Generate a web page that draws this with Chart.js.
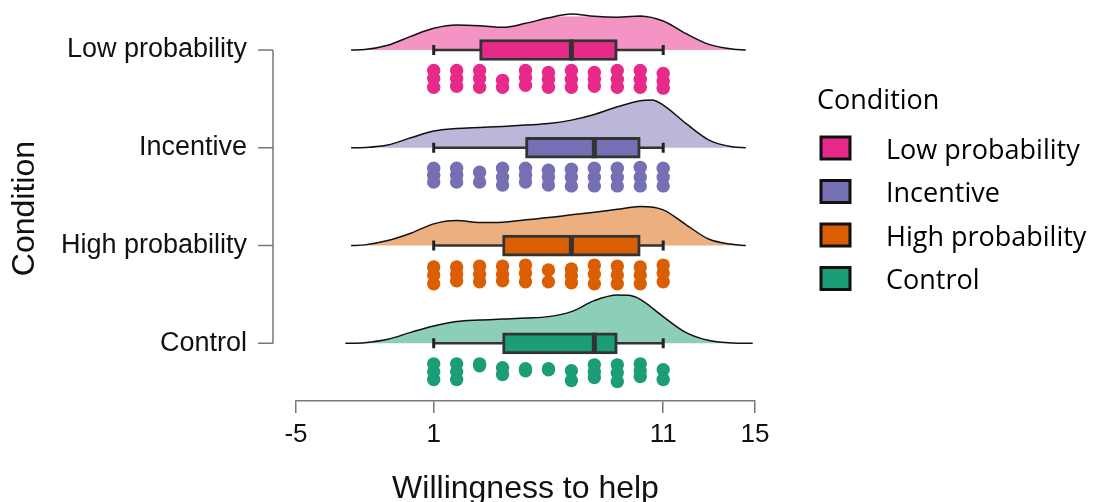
<!DOCTYPE html>
<html>
<head>
<meta charset="utf-8">
<script src="https://cdn.jsdelivr.net/npm/chart.js@4.4.1/dist/chart.umd.min.js"></script>
<style>
  html, body { margin: 0; padding: 0; background: #fff; }
  #wrap { width: 1098px; height: 502px; }
</style>
</head>
<body>
<div id="wrap"><canvas id="rain"></canvas></div>
<script>
const conditions = ['Low probability', 'Incentive', 'High probability', 'Control'];
const rowValues = [4, 3, 2, 1];
const xTickValues = [-5, 1, 11, 15];
const darkColors = ['#E7298A', '#7570B3', '#D95F02', '#1B9E77'];
const lightColors = ['rgba(231,41,138,0.5)', 'rgba(117,112,179,0.5)', 'rgba(217,95,2,0.5)', 'rgba(27,158,119,0.5)'];

// box plot stats, same order as conditions
const whiskerLow = [1, 1, 1, 1];
const quartile1 = [3, 5, 4, 4];
const medians = [7, 8, 7, 8];
const quartile3 = [9, 10, 10, 9];
const whiskerHigh = [11, 11, 11, 11];

// density clouds: x and height above the row
const lowDensityX = [-2.6, -2, -1, 0, 1, 2, 3, 4, 5, 6, 7, 8, 9, 10, 11, 12, 13, 14, 14.6];
const lowDensityH = [0, 0.005, 0.048, 0.140, 0.222, 0.256, 0.248, 0.232, 0.273, 0.330, 0.368, 0.345, 0.336, 0.348, 0.297, 0.167, 0.058, 0.010, 0];
const incentiveDensityX = [-2.6, -2, -1, 0, 1, 2, 3, 4, 5, 6, 7, 8, 9, 10, 10.5, 11, 12, 13, 14, 14.6];
const incentiveDensityH = [0, 0.003, 0.028, 0.102, 0.171, 0.197, 0.208, 0.218, 0.232, 0.248, 0.283, 0.341, 0.419, 0.481, 0.488, 0.437, 0.248, 0.079, 0.010, 0];
const highDensityX = [-2.6, -2, -1, 0, 1, 2, 3, 4, 5, 6, 7, 8, 9, 10, 11, 12, 13, 14, 14.6];
const highDensityH = [0, 0.007, 0.051, 0.126, 0.222, 0.256, 0.235, 0.238, 0.263, 0.286, 0.314, 0.341, 0.371, 0.399, 0.365, 0.212, 0.064, 0.013, 0];
const controlDensityX = [-2.85, -2, -1, 0, 1, 2, 3, 4, 5, 6, 7, 8, 9, 9.5, 10, 11, 12, 13, 14, 14.9];
const controlDensityH = [0, 0.007, 0.041, 0.112, 0.177, 0.222, 0.238, 0.248, 0.259, 0.273, 0.324, 0.437, 0.494, 0.491, 0.450, 0.273, 0.109, 0.028, 0.003, 0];

// raw scores 1..11, each dot's drop below its row (jitter)
const scores = [1, 2, 3, 4, 5, 6, 7, 8, 9, 10, 11];
const lowJitter = [[0.21, 0.29, 0.38], [0.21, 0.29, 0.37], [0.21, 0.29, 0.38], [0.31, 0.38], [0.21, 0.28, 0.36], [0.23, 0.30, 0.38],
  [0.21, 0.30, 0.38], [0.23, 0.30, 0.37], [0.21, 0.30, 0.38], [0.21, 0.30, 0.38], [0.24, 0.32, 0.39]];
const incentiveJitter = [[0.21, 0.28, 0.35], [0.21, 0.28, 0.35], [0.25, 0.35], [0.21, 0.30, 0.38], [0.21, 0.28, 0.35], [0.23, 0.30, 0.38],
  [0.22, 0.30, 0.39], [0.21, 0.30, 0.39], [0.21, 0.30, 0.39], [0.20, 0.30, 0.39], [0.21, 0.30, 0.39]];
const highJitter = [[0.22, 0.30, 0.39], [0.22, 0.29, 0.36], [0.21, 0.29, 0.37], [0.21, 0.29, 0.36], [0.20, 0.28, 0.37], [0.25, 0.37],
  [0.24, 0.31, 0.38], [0.20, 0.29, 0.39], [0.21, 0.30, 0.39], [0.22, 0.30, 0.39], [0.20, 0.28, 0.37]];
const controlJitter = [[0.21, 0.29, 0.37], [0.21, 0.29, 0.37], [0.21, 0.23], [0.25, 0.32], [0.26, 0.28], [0.26, 0.27],
  [0.28, 0.38], [0.22, 0.29, 0.35], [0.22, 0.30, 0.39], [0.21, 0.28, 0.34], [0.27, 0.37]];

const densityX = [lowDensityX, incentiveDensityX, highDensityX, controlDensityX];
const densityH = [lowDensityH, incentiveDensityH, highDensityH, controlDensityH];
const jitters = [lowJitter, incentiveJitter, highJitter, controlJitter];

const axisFont = "'Liberation Sans', Arial, sans-serif";
const legendFont = "'Open Sans', sans-serif";
const axisGray = '#777';
const boxGray = '#333';

Chart.defaults.font.family = axisFont;

const datasets = [];

conditions.forEach((name, i) => {
  const row = rowValues[i];
  // cloud
  datasets.push({
    type: 'line',
    label: name,
    data: densityX[i].map((x, k) => ({ x: x, y: row + densityH[i][k] })),
    borderColor: '#111',
    borderWidth: 1.5,
    backgroundColor: lightColors[i],
    fill: { value: row },
    pointRadius: 0,
    cubicInterpolationMode: 'monotone',
    clip: false,
    order: 5
  });
  // whisker line
  datasets.push({
    type: 'line',
    data: [{ x: whiskerLow[i], y: row }, { x: whiskerHigh[i], y: row }],
    borderColor: boxGray,
    borderWidth: 2.5,
    pointRadius: 0,
    fill: false,
    order: 4
  });
  // rain
  const dots = [];
  jitters[i].forEach((list, k) => {
    list.forEach(j => dots.push({ x: scores[k], y: row - j }));
  });
  datasets.push({
    type: 'scatter',
    data: dots,
    pointRadius: 6.7,
    pointBackgroundColor: darkColors[i],
    pointBorderWidth: 0,
    order: 0
  });
});

// whisker end caps
datasets.push({
  type: 'scatter',
  data: conditions.flatMap((c, i) => [{ x: whiskerLow[i], y: rowValues[i] }, { x: whiskerHigh[i], y: rowValues[i] }]),
  pointStyle: 'line',
  pointRotation: 90,
  pointRadius: 5,
  pointBorderWidth: 3,
  pointBorderColor: '#222',
  order: 3
});

// boxes
datasets.push({
  type: 'bar',
  indexAxis: 'y',
  data: conditions.map((c, i) => ({ x: [quartile1[i], quartile3[i]], y: rowValues[i] })),
  backgroundColor: darkColors,
  borderColor: boxGray,
  borderWidth: 3,
  borderSkipped: false,
  barThickness: 21,
  order: 2
});

// medians
datasets.push({
  type: 'scatter',
  data: conditions.map((c, i) => ({ x: medians[i], y: rowValues[i] })),
  pointStyle: 'line',
  pointRotation: 90,
  pointRadius: 10.5,
  pointBorderWidth: 5,
  pointBorderColor: boxGray,
  order: 1
});

// y axis drawn as a range frame, set off from the plot
const leftFrame = {
  id: 'leftFrame',
  afterDraw(chart) {
    const { ctx, chartArea, scales } = chart;
    const x = chartArea.left - 23;
    const top = scales.y.getPixelForValue(rowValues[0]);
    const bottom = scales.y.getPixelForValue(rowValues[rowValues.length - 1]);
    ctx.save();
    ctx.strokeStyle = axisGray;
    ctx.lineWidth = 1.5;
    ctx.beginPath();
    ctx.moveTo(x, top);
    ctx.lineTo(x, bottom);
    rowValues.forEach(v => {
      const py = scales.y.getPixelForValue(v);
      ctx.moveTo(x - 15, py);
      ctx.lineTo(x, py);
    });
    ctx.stroke();
    ctx.restore();
  }
};

// legend block on the right
const sideLegend = {
  id: 'sideLegend',
  afterDraw(chart) {
    const { ctx } = chart;
    const left = 821;
    ctx.save();
    ctx.fillStyle = '#000';
    ctx.textBaseline = 'middle';
    ctx.textAlign = 'left';
    ctx.font = '27px ' + legendFont;
    ctx.fillText('Condition', left - 4, 101);
    conditions.forEach((name, i) => {
      const cy = 148 + i * 43.5;
      ctx.fillStyle = darkColors[i];
      ctx.fillRect(left, cy - 11, 29, 22);
      ctx.strokeStyle = '#111';
      ctx.lineWidth = 3;
      ctx.strokeRect(left, cy - 11, 29, 22);
      ctx.fillStyle = '#000';
      ctx.fillText(name, 886, cy + 3);
    });
    ctx.restore();
  }
};

new Chart(document.getElementById('rain'), {
  type: 'scatter',
  data: { datasets: datasets },
  plugins: [leftFrame, sideLegend],
  options: {
    responsive: true,
    maintainAspectRatio: false,
    animation: false,
    events: [],
    layout: { padding: { left: 0, right: 343, top: 2, bottom: 0 } },
    plugins: {
      legend: { display: false },
      tooltip: { enabled: false }
    },
    scales: {
      x: {
        type: 'linear',
        min: -5,
        max: 15,
        offset: false,
        beginAtZero: false,
        afterBuildTicks: s => { s.ticks = xTickValues.map(v => ({ value: v })); },
        afterFit: s => { s.height = 101; },
        grid: { drawOnChartArea: false, drawTicks: true, tickLength: 12, color: axisGray, lineWidth: 1.5, offset: false },
        border: { display: true, color: axisGray, width: 1.5 },
        ticks: { padding: 6, color: '#111', font: { size: 26 }, maxRotation: 0, autoSkip: false },
        title: { display: true, text: 'Willingness to help', color: '#111', font: { size: 32, lineHeight: 0.8 }, padding: 0 }
      },
      y: {
        type: 'linear',
        min: 0.41,
        max: 4.346,
        offset: false,
        afterBuildTicks: s => { s.ticks = rowValues.map(v => ({ value: v })); },
        afterFit: s => { s.width = 296; },
        // invisible tick marks keep the labels clear of the plot
        grid: { display: false, drawTicks: true, tickLength: 49, offset: false },
        border: { display: false },
        ticks: {
          padding: 0,
          color: '#111',
          font: { size: 27 },
          callback: v => conditions[rowValues.indexOf(v)]
        },
        title: { display: true, text: 'Condition', color: '#111', font: { size: 32 }, padding: { top: 6, bottom: 0 } }
      }
    }
  }
});
</script>
</body>
</html>
